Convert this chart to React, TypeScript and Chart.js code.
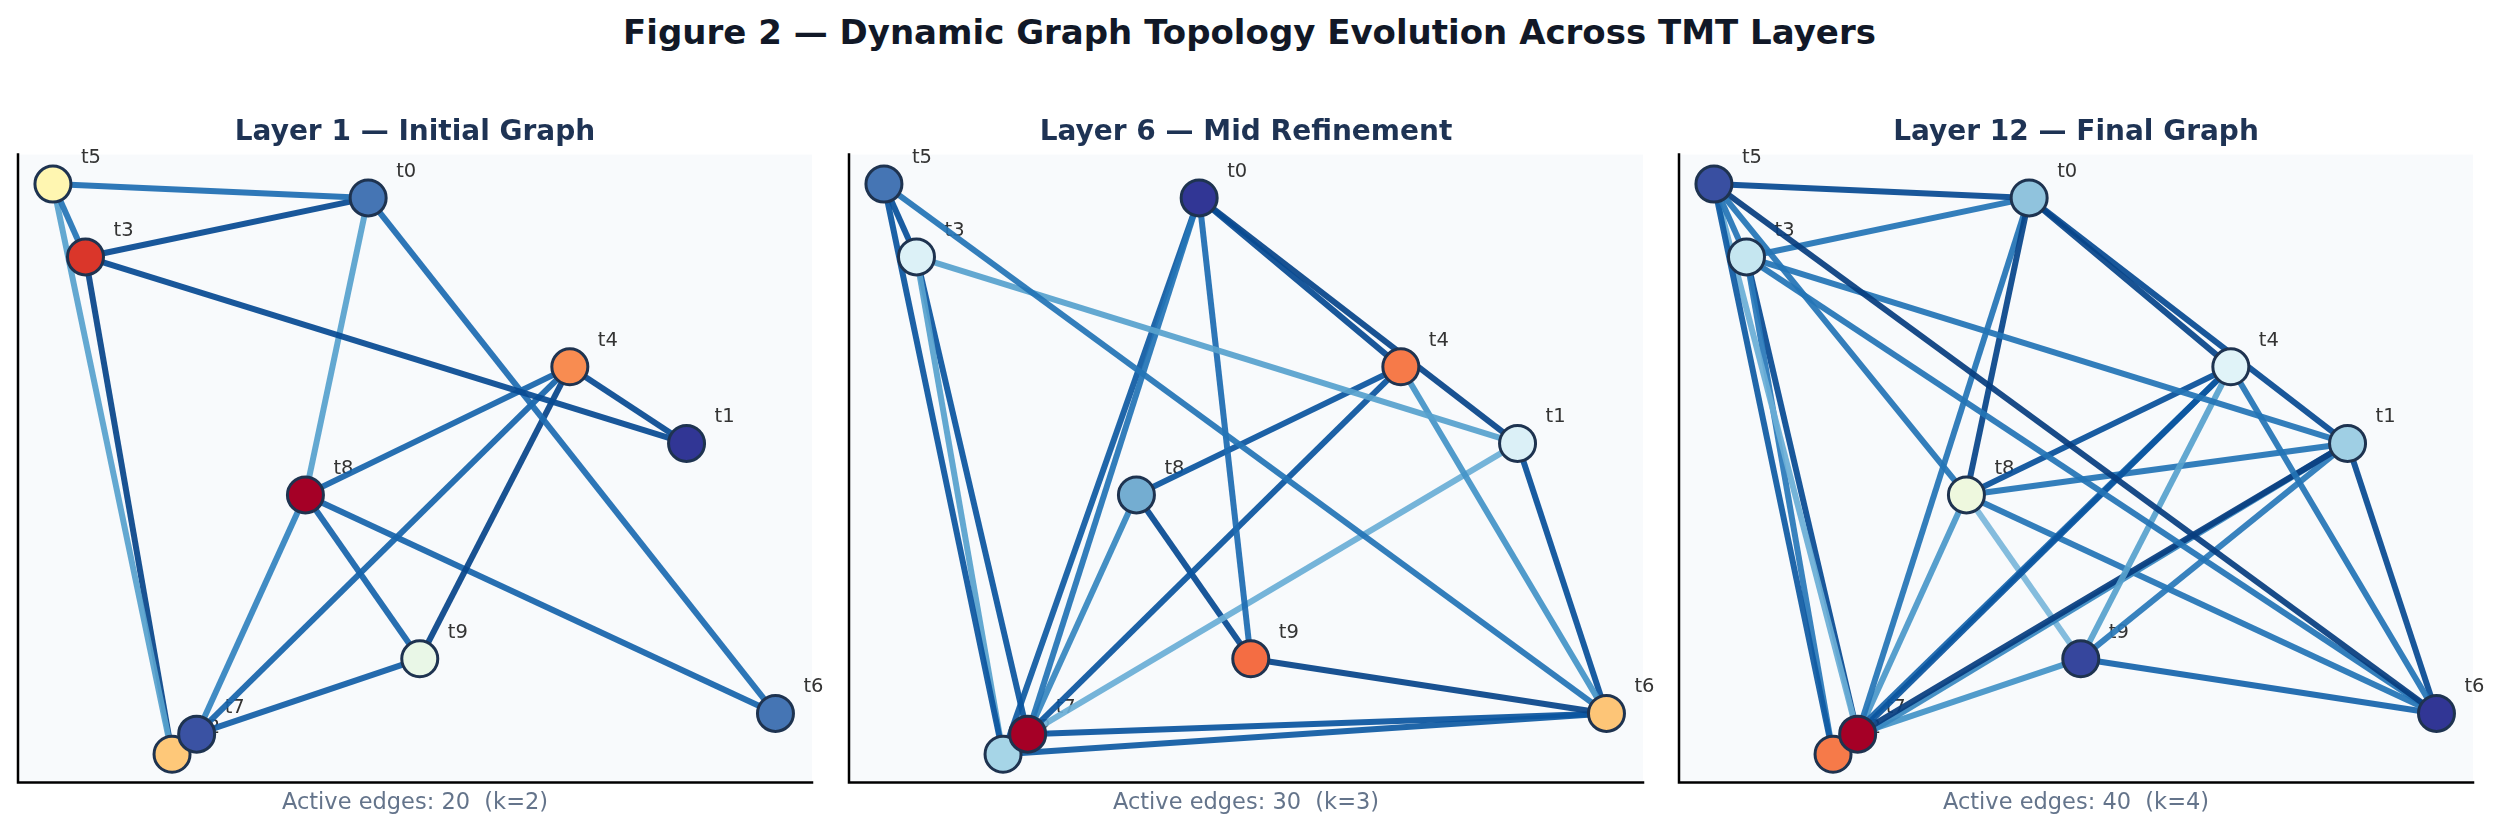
import { useEffect, useRef } from "react";
import Chart from "chart.js/auto";

const FONT = "DejaVu Sans";

const SUPTITLE = "Figure 2 — Dynamic Graph Topology Evolution Across TMT Layers";
const PANEL_TITLES = ["Layer 1 — Initial Graph", "Layer 6 — Mid Refinement", "Layer 12 — Final Graph"];
const PANEL_NOTES = ["Active edges: 20  (k=2)", "Active edges: 30  (k=3)", "Active edges: 40  (k=4)"];

// node layout (same in every layer), axes run 0..1
const NODE_LABELS = ["t0", "t1", "t2", "t3", "t4", "t5", "t6", "t7", "t8", "t9"];
const NODE_X = [0.441, 0.842, 0.194, 0.085, 0.695, 0.044, 0.954, 0.225, 0.362, 0.506];
const NODE_Y = [0.931, 0.54, 0.045, 0.837, 0.662, 0.953, 0.11, 0.077, 0.458, 0.197];

// node colour values (RdYlBu_r)
const L1_NODE_VALUES = [0.1, 0.0, 0.648, 0.89, 0.752, 0.53, 0.1, 0.044, 1.0, 0.43];
const L6_NODE_VALUES = [0.0, 0.39, 0.29, 0.392, 0.78, 0.1, 0.654, 1.0, 0.2, 0.8];
const L12_NODE_VALUES = [0.25, 0.278, 0.78, 0.349, 0.4, 0.04, 0.0, 1.0, 0.445, 0.025];

// edges [from, to] and their strength (Blues)
const L1_EDGES = [
  [5, 0], [5, 3], [5, 2], [3, 0], [3, 2], [3, 1], [0, 8], [0, 6],
  [4, 1], [4, 8], [4, 7], [4, 9], [8, 7], [8, 9], [8, 6], [9, 7],
];
const L1_WEIGHTS = [0.76, 0.74, 0.56, 0.9, 0.92, 0.9, 0.56, 0.77, 0.9, 0.8, 0.8, 0.92, 0.68, 0.8, 0.8, 0.82];

const L6_EDGES = [
  [5, 3], [5, 2], [5, 6], [3, 2], [3, 7], [3, 1], [0, 7], [0, 2], [0, 9], [0, 4], [0, 1],
  [4, 8], [4, 7], [4, 6], [1, 6], [1, 7], [8, 7], [8, 9], [9, 6], [7, 6], [2, 6],
];
const L6_WEIGHTS = [0.88, 0.86, 0.74, 0.56, 0.86, 0.56, 0.74, 0.84, 0.77, 0.9, 0.92, 0.86, 0.86, 0.62, 0.88, 0.5, 0.67, 0.9, 0.92, 0.86, 0.84];

const L12_EDGES = [
  [5, 0], [5, 3], [5, 2], [5, 7], [5, 8], [5, 6], [3, 0], [3, 1], [3, 6], [3, 2], [3, 7],
  [0, 8], [0, 7], [0, 4], [0, 1], [4, 8], [4, 7], [4, 2], [4, 9], [4, 6],
  [1, 8], [1, 7], [1, 2], [1, 9], [1, 6], [8, 7], [8, 9], [8, 6], [9, 7], [9, 6],
];
const L12_WEIGHTS = [
  0.9, 0.74, 0.84, 0.5, 0.74, 0.95, 0.74, 0.74, 0.74, 0.72, 0.9,
  0.92, 0.74, 0.92, 0.9, 0.88, 0.86, 0.8, 0.56, 0.74,
  0.74, 0.95, 0.66, 0.72, 0.9, 0.6, 0.46, 0.74, 0.62, 0.8,
];

const LAYERS = [
  { values: L1_NODE_VALUES, edges: L1_EDGES, weights: L1_WEIGHTS },
  { values: L6_NODE_VALUES, edges: L6_EDGES, weights: L6_WEIGHTS },
  { values: L12_NODE_VALUES, edges: L12_EDGES, weights: L12_WEIGHTS },
];

const BLUES = ["#f7fbff", "#deebf7", "#c6dbef", "#9ecae1", "#6baed6", "#4292c6", "#2171b5", "#08519c", "#08306b"];
const RDYLBU_R = ["#313695", "#4575b4", "#74add1", "#abd9e9", "#e0f3f8", "#ffffbf", "#fee090", "#fdae61", "#f46d43", "#d73027", "#a50026"];

function hexRgb(h: string) {
  return [parseInt(h.slice(1, 3), 16), parseInt(h.slice(3, 5), 16), parseInt(h.slice(5, 7), 16)];
}

function cmap(stops: string[], t: number, alpha = 1) {
  const v = Math.max(0, Math.min(1, t)) * (stops.length - 1);
  const i = Math.min(Math.floor(v), stops.length - 2);
  const f = v - i;
  const a = hexRgb(stops[i]);
  const b = hexRgb(stops[i + 1]);
  const c = a.map((x, k) => Math.round(x + (b[k] - x) * f));
  return `rgba(${c[0]}, ${c[1]}, ${c[2]}, ${alpha})`;
}

// axes face, left/bottom spines and node labels (labels sit under edges and nodes)
const panelDecor = {
  id: "panelDecor",
  beforeDatasetsDraw(chart: any) {
    const { ctx, chartArea: a, scales } = chart;
    ctx.save();
    ctx.fillStyle = "#f8fafc";
    ctx.fillRect(a.left, a.top, a.right - a.left, a.bottom - a.top);
    ctx.strokeStyle = "#000000";
    ctx.lineWidth = 2.5;
    ctx.lineCap = "square";
    ctx.beginPath();
    ctx.moveTo(a.left, a.top);
    ctx.lineTo(a.left, a.bottom);
    ctx.lineTo(a.right, a.bottom);
    ctx.stroke();

    ctx.font = `19.5px "${FONT}"`;
    ctx.fillStyle = "#333333";
    ctx.textAlign = "left";
    ctx.textBaseline = "middle";
    NODE_LABELS.forEach((label, i) => {
      const px = scales.x.getPixelForValue(NODE_X[i]);
      const py = scales.y.getPixelForValue(NODE_Y[i]);
      ctx.fillText(label, px + 28, py - 26);
    });
    ctx.restore();
  },
};

const GraphPanel = ({ index }: { index: number }) => {
  const chartRef = useRef<HTMLCanvasElement>(null);
  const chartInstance = useRef<Chart | null>(null);

  useEffect(() => {
    if (chartInstance.current) {
      chartInstance.current.destroy();
    }
    if (!chartRef.current) return;
    const layer = LAYERS[index];

    const nodes = {
      data: NODE_X.map((x, i) => ({ x, y: NODE_Y[i] })),
      pointRadius: 18,
      pointBorderWidth: 3,
      pointBorderColor: "#1e3350",
      pointBackgroundColor: layer.values.map((v) => cmap(RDYLBU_R, v)),
      showLine: false,
      clip: false,
    };

    const edges = layer.edges.map(([a, b], k) => ({
      data: [
        { x: NODE_X[a], y: NODE_Y[a] },
        { x: NODE_X[b], y: NODE_Y[b] },
      ],
      borderColor: cmap(BLUES, layer.weights[k], 0.93),
      borderWidth: 6,
      pointRadius: 0,
      showLine: true,
      fill: false,
      clip: false,
    }));

    chartInstance.current = new Chart(chartRef.current, {
      type: "scatter",
      data: { datasets: [nodes, ...edges] as any },
      plugins: [panelDecor],
      options: {
        responsive: true,
        maintainAspectRatio: false,
        animation: false,
        events: [],
        layout: { autoPadding: false, padding: { left: 15, right: 15, top: 0, bottom: 0 } },
        plugins: {
          legend: { display: false },
          tooltip: { enabled: false },
          title: {
            display: true,
            text: PANEL_TITLES[index],
            color: "#1e3354",
            font: { family: FONT, size: 28, weight: "bold" },
            padding: { top: 26, bottom: 5 },
          },
          subtitle: {
            display: true,
            position: "bottom",
            text: PANEL_NOTES[index],
            color: "#64748b",
            font: { family: FONT, size: 22.5 },
            padding: { top: 7, bottom: 17.5 },
          },
        },
        scales: {
          x: { type: "linear", min: 0, max: 1, display: false },
          y: { type: "linear", min: 0, max: 1, display: false },
        },
      },
    });

    return () => {
      if (chartInstance.current) {
        chartInstance.current.destroy();
        chartInstance.current = null;
      }
    };
  }, [index]);

  return (
    <div style={{ position: "absolute", left: 3 + index * 830.5, top: 90, width: 824, height: 744 }}>
      <canvas ref={chartRef} />
    </div>
  );
};

export default function App() {
  return (
    <div
      style={{
        position: "absolute",
        left: 0,
        top: 0,
        width: 2499,
        height: 834,
        overflow: "hidden",
        background: "#ffffff",
        fontFamily: FONT,
      }}
    >
      <div
        style={{
          position: "absolute",
          left: 0,
          top: 15,
          width: 2499,
          textAlign: "center",
          fontSize: 34,
          lineHeight: "34px",
          fontWeight: "bold",
          color: "#111827",
        }}
      >
        {SUPTITLE}
      </div>
      {[0, 1, 2].map((i) => (
        <GraphPanel key={i} index={i} />
      ))}
    </div>
  );
}
